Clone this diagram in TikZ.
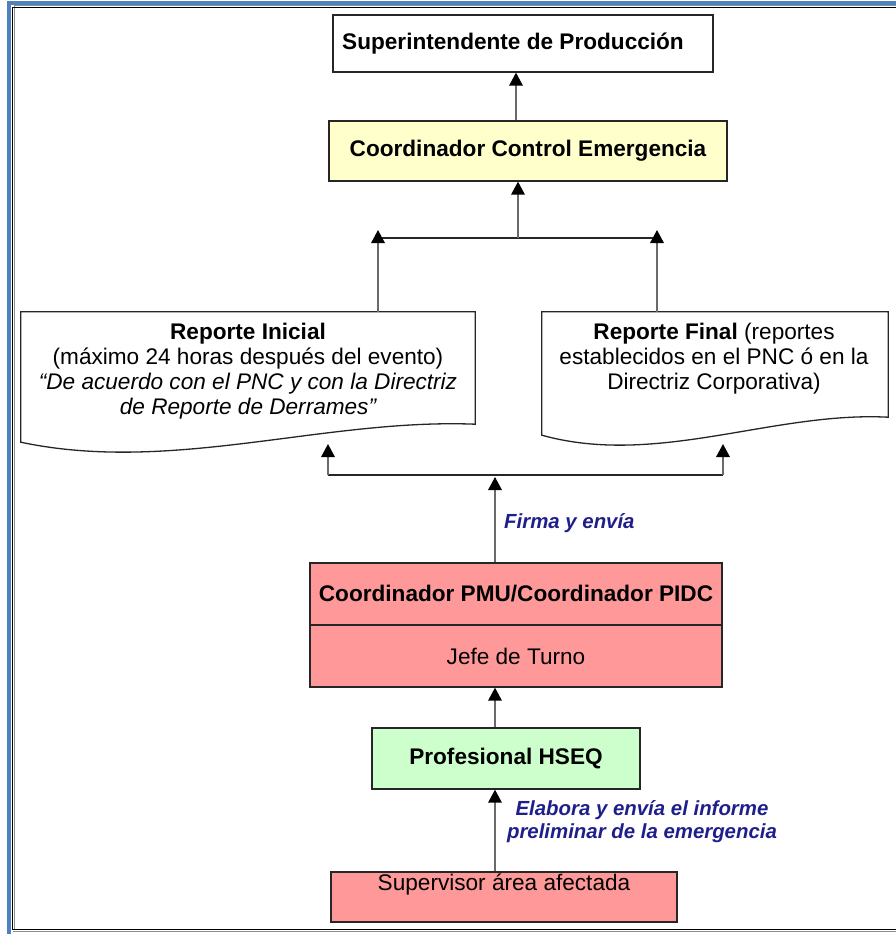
\documentclass[tikz,border=0pt]{standalone}
\usepackage{fontspec}
\setmainfont{Liberation Sans}
\usetikzlibrary{arrows.meta,calc}

\definecolor{frameblue}{HTML}{4F81BD}
\definecolor{boxyellow}{HTML}{FFFFCC}
\definecolor{boxgreen}{HTML}{CCFFCC}
\definecolor{boxred}{HTML}{FF9999}
\definecolor{labelblue}{HTML}{1F1F8C}
\definecolor{stemgray}{HTML}{6A6A6A}

\newcommand\dgfont{\fontsize{22.6}{25}\selectfont}
\newcommand\lblfont{\fontsize{20.4}{23}\selectfont\bfseries\itshape}

\tikzset{
  box/.style={draw=black!85, line width=1.3pt, inner sep=0pt, font=\dgfont},
  docarea/.style={inner sep=0pt},
  docline/.style={draw=black!85, line width=1.3pt, fill=white},
  doctext/.style={font=\dgfont, align=center, inner sep=0pt},
  stem/.style={draw=stemgray, line width=1.7pt,
    -{Triangle[width=13.5pt,length=13pt,color=black]}},
  hline/.style={draw=black!85, line width=1.5pt},
  flowlabel/.style={font=\lblfont, text=labelblue, align=center, inner sep=0pt},
}

\begin{document}
\begin{tikzpicture}[x=1pt,y=-1pt]
\useasboundingbox (0,0) rectangle (896,934);

% page frame
\draw[frameblue, line width=4pt] (9,934) -- (9,3) -- (896,3);
\draw[black!45, line width=1pt] (14,929) -- (14,6) -- (896,6);
\draw[black, line width=1.3pt] (12.5,929.5) -- (12.5,7.5) -- (896,7.5);
\draw[black, line width=1.3pt] (12.5,929.5) -- (896,929.5);
\draw[black!45, line width=1pt] (12.5,931.5) -- (896,931.5);

% boxes
\node[box, minimum width=380, minimum height=57,
      label={[font=\dgfont\bfseries, xshift=-10pt]center:Superintendente de Producción}]
      (sup) at (523,43.5) {};
\node[box, fill=boxyellow, minimum width=398, minimum height=60, font=\dgfont\bfseries]
      (cce) at (528,151) {Coordinador Control Emergencia};

% report documents (wavy bottom edge)
\node[docarea, minimum width=454, minimum height=130] (ri) at (248,377) {};
\draw[docline] (ri.south west) -- (ri.north west) -- (ri.north east)
  -- ($(ri.south east)+(0,-18)$)
  .. controls +(-151,-6) and +(151,32) .. (ri.south west) -- cycle;
\node[doctext] (ritext) at (248,371)
  {\bfseries Reporte Inicial\\
   (máximo 24 horas después del evento)\\
   \itshape “De acuerdo con el PNC y con la Directriz\\
   \itshape de Reporte de Derrames”};

\node[docarea, minimum width=346, minimum height=123] (rf) at (715,373.5) {};
\draw[docline] (rf.south west) -- (rf.north west) -- (rf.north east)
  -- ($(rf.south east)+(0,-18)$)
  .. controls +(-115,-6) and +(115,32) .. (rf.south west) -- cycle;
\node[doctext] (rftext) at (714,359)
  {{\bfseries Reporte Final} (reportes\\
   establecidos en el PNC ó en la\\
   Directriz Corporativa)};

\node[box, fill=boxred, minimum width=412, minimum height=62, font=\dgfont\bfseries]
      (pmu) at (516,594) {Coordinador PMU/Coordinador PIDC};
\node[box, fill=boxred, minimum width=412, minimum height=62]
      (jefe) at (516,656) {Jefe de Turno};
\node[box, fill=boxgreen, minimum width=268, minimum height=61, font=\dgfont\bfseries]
      (hseq) at (506,758.5) {Profesional HSEQ};
\node[box, fill=boxred, minimum width=346, minimum height=50,
      label={[font=\dgfont, yshift=12pt]center:Supervisor área afectada}]
      (supv) at (504,897) {};

% connector axes and junctions
\coordinate (topax) at (516,0);
\coordinate (jn) at (518,238);
\coordinate (jl) at (378,238);
\coordinate (jr) at (657,238);
\coordinate (jlt) at (378,230);
\coordinate (jrt) at (657,230);
\coordinate (bj) at (495,475);
\coordinate (bjt) at (495,477);
\coordinate (bl) at (328,475);
\coordinate (br) at (723,475);
\coordinate (blt) at (328,444);
\coordinate (brt) at (723,444);
\coordinate (lowax) at (495,0);

% connectors
\draw[stem] (cce.north -| topax) -- (sup.south -| topax);
\draw[hline] (jl) -- (jr);
\draw[stem] (jn) -- (cce.south -| jn);
\draw[stem] (ri.north -| jl) -- (jlt);
\draw[stem] (rf.north -| jr) -- (jrt);

\draw[hline] (bl) -- (br);
\draw[stem] (bl) -- (blt);
\draw[stem] (br) -- (brt);
\draw[stem] (pmu.north -| bj) -- (bjt);
\draw[stem] (hseq.north -| lowax) -- (jefe.south -| lowax);
\draw[stem] (supv.north -| lowax) -- (hseq.south -| lowax);

% connector labels
\node[flowlabel, anchor=west] (firma) at (504,523) {Firma y envía};
\node[flowlabel] (elabora) at (642,821.5)
  {Elabora y envía el informe\\preliminar de la emergencia};
\end{tikzpicture}
\end{document}
